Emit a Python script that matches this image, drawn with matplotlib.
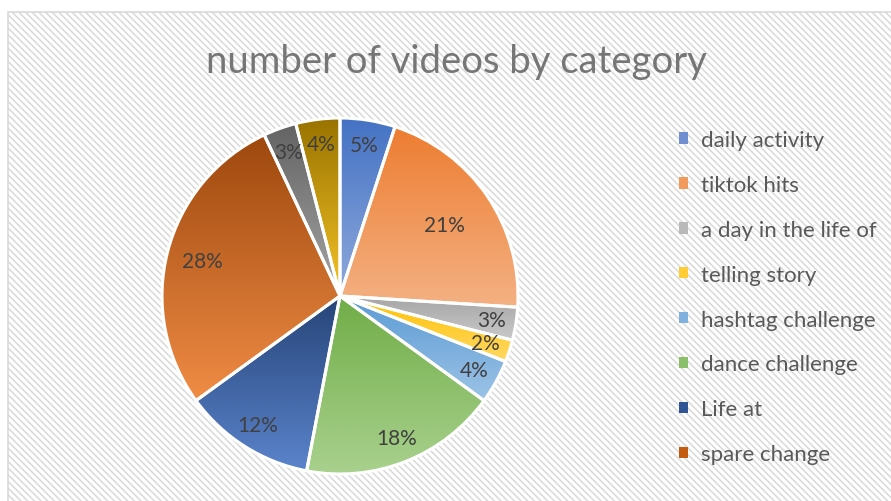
import matplotlib
matplotlib.use("Agg")
import matplotlib.pyplot as plt
from matplotlib.patches import Rectangle
from matplotlib.colors import to_rgb
import numpy as np

# slice values (percent), clockwise from 12 o'clock
shares = [5, 21, 3, 2, 4, 18, 12, 28, 3, 4]
# only the first eight appear in the legend of the original
categories = [
    "daily activity",
    "tiktok hits",
    "a day in the life of",
    "telling story",
    "hashtag challenge",
    "dance challenge",
    "Life at",
    "spare change",
]
pct_labels = ["5%", "21%", "3%", "2%", "4%", "18%", "12%", "28%", "3%", "4%"]

# vertical gradient per slice: top colour -> bottom colour
TOP_COLORS = ["#4472c4", "#ed7d31", "#a5a5a5", "#ffc000", "#5b9bd5",
              "#70ad47", "#264478", "#9e480e", "#636363", "#997300"]
BOTTOM_COLORS = ["#8faadc", "#f4b183", "#c9c9c9", "#ffd966", "#9dc3e6",
                 "#a9d18e", "#5b84cc", "#f08c45", "#a5a5a5", "#f5c426"]
LEGEND_COLORS = ["#6f8fd0", "#f19a5c", "#b9b9b9", "#ffcc33", "#7fb0de",
                 "#8cbf6a", "#2f5597", "#c55a11"]

plt.rcParams["font.family"] = ["Lato", "DejaVu Sans"]
plt.rcParams["hatch.linewidth"] = 1.1
plt.rcParams["hatch.color"] = "#e6e6e6"

W, H = 891, 502
fig = plt.figure(figsize=(W / 100, H / 100), dpi=100, facecolor="white")

# chart area with diagonal hatched background
bg = Rectangle((8 / W, -0.05), 1.0, 1 - 13 / H + 0.05, transform=fig.transFigure,
               facecolor="white", edgecolor="#d9d9d9", linewidth=1.2,
               hatch="\\\\\\\\\\", zorder=-5)
fig.patches.append(bg)

fig.text(456 / W, 1 - 62 / H, "number of videos by category", ha="center",
         va="center", fontsize=27.5, color="#767676")

cx, cy, r = 340, 297, 178
ax = fig.add_axes([(cx - r) / W, (H - cy - r) / H, 2 * r / W, 2 * r / H])
ax.set_facecolor("none")
ax.axis("off")

wedges, _ = ax.pie(shares, startangle=90, counterclock=False, radius=1,
                   wedgeprops=dict(facecolor="none", edgecolor="white",
                                   linewidth=2.2, zorder=3))

for i, w in enumerate(wedges):
    ext = w.get_path().get_extents()
    top = np.array(to_rgb(TOP_COLORS[i]))
    bot = np.array(to_rgb(BOTTOM_COLORS[i]))
    t = np.linspace(0, 1, 256)[:, None]
    grad = (top[None, :] * (1 - t) + bot[None, :] * t)[:, None, :]
    im = ax.imshow(grad, extent=(ext.x0, ext.x1, ext.y0, ext.y1),
                   origin="upper", aspect="auto", zorder=2,
                   interpolation="bilinear")
    im.set_clip_path(w)

    mid = np.deg2rad((w.theta1 + w.theta2) / 2)
    if shares[i] >= 25:
        dist = 0.80
    elif shares[i] >= 20:
        dist = 0.71
    else:
        dist = 0.86
    ax.text(dist * np.cos(mid), dist * np.sin(mid), pct_labels[i],
            ha="center", va="center", fontsize=15, color="#404040", zorder=4)

ax.set_xlim(-1.0, 1.0)
ax.set_ylim(-1.0, 1.0)

handles = [Rectangle((0, 0), 1, 1, facecolor=c, edgecolor="none")
           for c in LEGEND_COLORS]
fig.legend(handles, categories, loc="upper left",
           bbox_to_anchor=(679 / W, 1 - 131 / H), frameon=False,
           fontsize=16, labelcolor="#595959", handlelength=0.42,
           handleheight=0.42, handletextpad=0.55, labelspacing=1.12,
           borderaxespad=0, borderpad=0)

fig.savefig("out.png", dpi=100, facecolor="white")
